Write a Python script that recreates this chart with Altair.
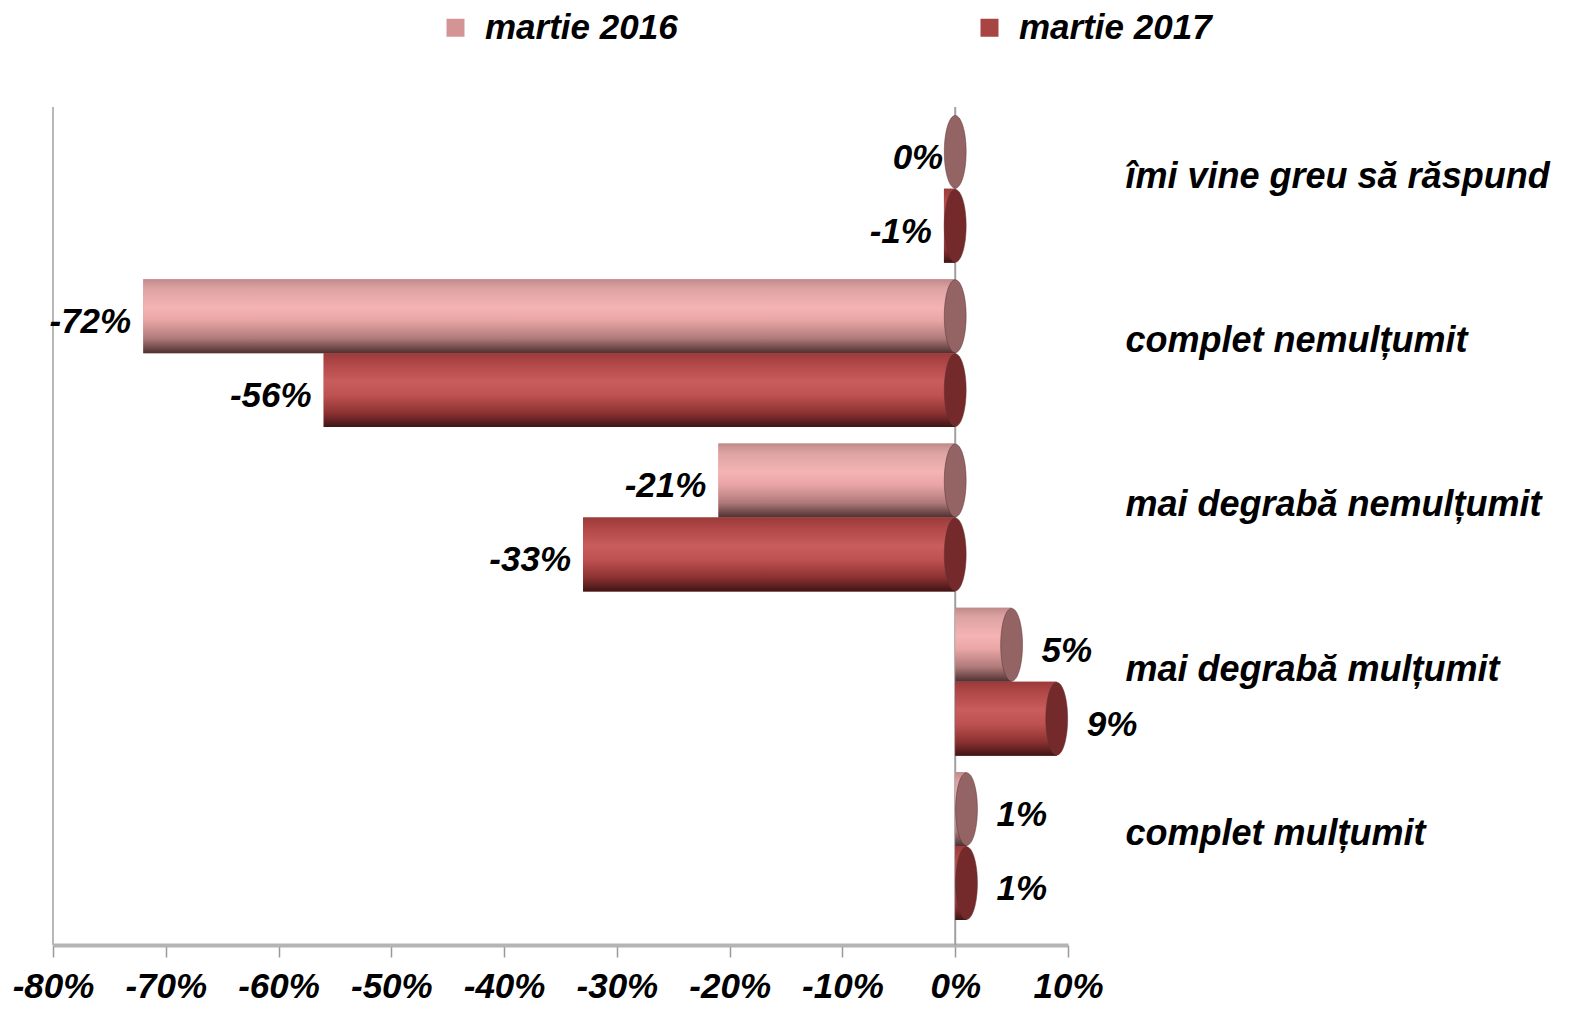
import altair as alt
import pandas as pd

categories = ["îmi vine greu să răspund", "complet nemulțumit", "mai degrabă nemulțumit",
              "mai degrabă mulțumit", "complet mulțumit"]
series = ["martie 2016", "martie 2017"]
v2016 = [0, -72, -21, 5, 1]
v2017 = [-1, -56, -33, 9, 1]
tick_values = [-80, -70, -60, -50, -40, -30, -20, -10, 0, 10]
legend_colors = ["#d49494", "#a84444"]
cap_colors = ["#946464", "#742a2a"]

rows = []
for c, a, b in zip(categories, v2016, v2017):
    rows.append({"cat": c, "ser": series[0], "v": a})
    rows.append({"cat": c, "ser": series[1], "v": b})
df = pd.DataFrame(rows)
df["lbl"] = df["v"].astype(str) + "%"
df["capx"] = df["v"].clip(lower=0)

FONT = "Liberation Sans"

grad_pink = alt.Gradient(
    gradient="linear", x1=0, x2=0, y1=0, y2=1,
    stops=[alt.GradientStop(color="#c08a8a", offset=0),
           alt.GradientStop(color="#dca2a2", offset=0.12),
           alt.GradientStop(color="#f5b3b3", offset=0.38),
           alt.GradientStop(color="#eaa6a6", offset=0.55),
           alt.GradientStop(color="#b07a7a", offset=0.8),
           alt.GradientStop(color="#4d3030", offset=1)])
grad_dark = alt.Gradient(
    gradient="linear", x1=0, x2=0, y1=0, y2=1,
    stops=[alt.GradientStop(color="#9b3a3a", offset=0),
           alt.GradientStop(color="#b24848", offset=0.15),
           alt.GradientStop(color="#c95c5c", offset=0.38),
           alt.GradientStop(color="#bd5050", offset=0.58),
           alt.GradientStop(color="#8a3030", offset=0.82),
           alt.GradientStop(color="#3e1515", offset=1)])

x_enc = alt.X("v:Q", scale=alt.Scale(domain=[-80, 10], nice=False),
              axis=alt.Axis(values=tick_values, labelExpr="datum.value + '%'", title=None,
                            grid=False, domainColor="#b4b4b4", domainWidth=4,
                            tickColor="#999999", tickWidth=1.5, tickSize=12,
                            labelPadding=12, labelFont=FONT, labelFontSize=35,
                            labelFontWeight="bold", labelFontStyle="italic",
                            labelColor="black", labelBaseline="top", labelAlign="center",
                            labelOverlap=False, labelFlush=False))
y_enc = alt.Y("cat:N", sort=categories,
              scale=alt.Scale(paddingInner=0.1, paddingOuter=0.1, align=0.24),
              axis=alt.Axis(orient="right", title=None, domain=False, ticks=False,
                            labelPadding=57, labelAlign="left", labelOffset=-12,
                            labelFont=FONT, labelFontSize=36, labelFontWeight="bold",
                            labelFontStyle="italic", labelColor="black", labelLimit=600))
yoff = alt.YOffset("ser:N", sort=series, scale=alt.Scale(paddingInner=0, paddingOuter=0))

base = alt.Chart(df)

legend_layer = base.mark_bar().encode(
    x=x_enc, y=y_enc, yOffset=yoff,
    color=alt.Color("ser:N", sort=series,
                    scale=alt.Scale(domain=series, range=legend_colors),
                    legend=alt.Legend(title=None, orient="none", legendX=385, legendY=-97,
                                      direction="horizontal", symbolType="square",
                                      symbolSize=324, symbolStrokeWidth=0,
                                      labelFont=FONT, labelFontSize=35,
                                      labelFontWeight="bold", labelFontStyle="italic",
                                      labelColor="black", labelOffset=12,
                                      columnPadding=294, labelLimit=400, padding=0)))

bar16 = base.transform_filter(alt.datum.ser == series[0]).mark_bar(color=grad_pink).encode(
    x="v:Q", y=alt.Y("cat:N", sort=categories), yOffset=yoff)
bar17 = base.transform_filter(alt.datum.ser == series[1]).mark_bar(color=grad_dark).encode(
    x="v:Q", y=alt.Y("cat:N", sort=categories), yOffset=yoff)

ellipse = "M 0 -1 A 0.3 1 0 1 0 0 1 A 0.3 1 0 1 0 0 -1 Z"
caps = base.mark_point(shape=ellipse, size=5300, filled=True, opacity=1,
                       stroke="#5a3030", strokeWidth=0.5).encode(
    x="capx:Q", y=alt.Y("cat:N", sort=categories), yOffset=yoff,
    fill=alt.Fill("ser:N", sort=series, scale=alt.Scale(domain=series, range=cap_colors),
                  legend=None))

text_neg = base.transform_filter(alt.datum.v <= 0).mark_text(
    align="right", baseline="middle", dx=-12, dy=6, font=FONT, fontSize=35,
    fontWeight="bold", fontStyle="italic", color="black").encode(
    x="v:Q", y=alt.Y("cat:N", sort=categories), yOffset=yoff, text="lbl:N")
text_pos = base.transform_filter(alt.datum.v > 0).mark_text(
    align="left", baseline="middle", dx=30, dy=6, font=FONT, fontSize=35,
    fontWeight="bold", fontStyle="italic", color="black").encode(
    x="v:Q", y=alt.Y("cat:N", sort=categories), yOffset=yoff, text="lbl:N")

zero_rule = alt.Chart(pd.DataFrame({"z": [0]})).mark_rule(color="#a0a0a0", strokeWidth=2).encode(
    x="z:Q")
wall_rule = alt.Chart(pd.DataFrame({"z": [-80]})).mark_rule(color="#b8b8b8", strokeWidth=2).encode(
    x="z:Q")

chart = alt.layer(wall_rule, zero_rule, legend_layer, bar16, bar17, caps, text_neg, text_pos).properties(
    width=1015, height=838,
    autosize=alt.AutoSizeParams(type="none"),
    padding={"left": 45, "top": 99, "right": 502, "bottom": 62},
).configure(background="white", view=alt.ViewConfig(stroke=None))

chart.save("out.html", embed_options={"renderer": "svg", "actions": False})
